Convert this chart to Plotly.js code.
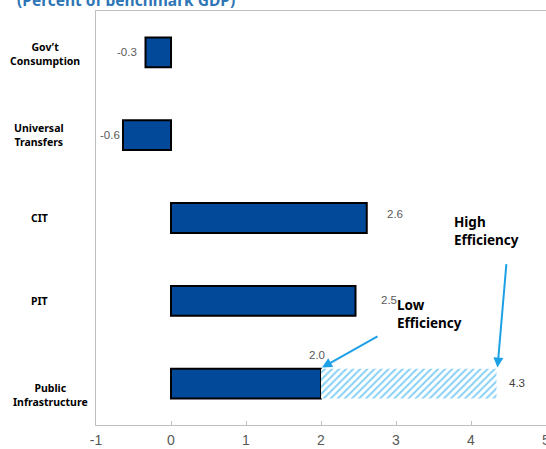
<!DOCTYPE html>
<html>
<head>
<meta charset="utf-8">
<script src="https://cdn.plot.ly/plotly-3.0.1.min.js"></script>
<style>
  html, body { margin: 0; padding: 0; overflow: hidden; background: #fff; width: 546px; height: 449px; }
  #chart { position: absolute; left: 0; top: -10px; width: 600px; height: 459px; }
</style>
</head>
<body>
<div id="chart"></div>
<script>
// ---- data ----
const categories = ["Gov’t Consumption", "Universal Transfers", "CIT", "PIT", "Public Infrastructure"];
const categoryLabels = ["Gov’t<br>Consumption", "Universal<br>Transfers", "CIT", "PIT", "Public<br>Infrastructure"];
const lowEfficiency = [-0.34, -0.64, 2.61, 2.46, 2.0];
const highEfficiencyCategory = "Public Infrastructure";
const highEfficiencyValue = 4.34;
const xTickVals = [-1, 0, 1, 2, 3, 4, 5];
const xTickText = ["-1", "0", "1", "2", "3", "4", "5"];
const titleText = "(Percent of benchmark GDP)";

// ---- styling ----
const plotLeft = 96, plotWidth = 465;
const labelFont = {family: "Noto Sans, Open Sans, sans-serif", size: 10.5, color: "#000"};
const valueFont = {family: "Liberation Sans, Arial, sans-serif", size: 11.5, color: "#595959"};
const noteFont = {family: "Noto Sans, Open Sans, sans-serif", size: 13.5, color: "#000"};
const arrowColor = "#1EA0E6";

const catLabelPos = [ {cx: 45, ys: -2}, {cx: 39, ys: 0}, {cx: 39, ys: 0}, {cx: 39, ys: 0}, {cx: 50, ys: -11} ];
const valueLabelPos = [
  {xa: "right", xs: -7, ys: 0},
  {xa: "right", xs: -1, ys: 0},
  {xa: "left", xs: 18, ys: 4},
  {xa: "left", xs: 23, ys: 1},
  {xa: "center", xs: -4, ys: 29}
];

const idxHigh = categories.indexOf(highEfficiencyCategory);
const lowBase = lowEfficiency[idxHigh];

const traces = [
  {
    type: "bar", orientation: "h",
    y: categories, x: lowEfficiency,
    marker: {color: "#02499A", line: {color: "#000000", width: 2}},
    hoverinfo: "skip", showlegend: false
  },
  {
    type: "bar", orientation: "h",
    y: [highEfficiencyCategory], base: [lowBase], x: [highEfficiencyValue - lowBase],
    marker: {color: "#ffffff", line: {width: 0},
      pattern: {shape: "/", fgcolor: "#86D0F4", bgcolor: "#ffffff", size: 5, solidity: 0.4}},
    hoverinfo: "skip", showlegend: false
  }
];

const annotations = [];
categories.forEach((c, i) => {
  annotations.push({
    xref: "paper", x: 0, xshift: catLabelPos[i].cx - plotLeft, xanchor: "center",
    yref: "y", y: c, yshift: catLabelPos[i].ys, yanchor: "middle",
    text: "<b>" + categoryLabels[i] + "</b>", showarrow: false, align: "center", font: labelFont
  });
  annotations.push({
    xref: "x", x: lowEfficiency[i], xshift: valueLabelPos[i].xs, xanchor: valueLabelPos[i].xa,
    yref: "y", y: c, yshift: valueLabelPos[i].ys, yanchor: "middle",
    text: lowEfficiency[i].toFixed(1), showarrow: false, font: valueFont
  });
});
annotations.push({
  xref: "x", x: highEfficiencyValue, xshift: 10, xanchor: "left",
  yref: "y", y: highEfficiencyCategory, yshift: 1, yanchor: "middle",
  text: highEfficiencyValue.toFixed(1), showarrow: false,
  font: Object.assign({}, valueFont, {color: "#404040"})
});
// note texts
annotations.push({
  xref: "x", x: 3.75, xanchor: "left", yref: "y", y: categories[2], yshift: -13, yanchor: "middle",
  text: "<b>High<br>Efficiency</b>", showarrow: false, align: "left", font: noteFont
});
annotations.push({
  xref: "x", x: 2.98, xanchor: "left", yref: "y", y: categories[3], yshift: -13, yanchor: "middle",
  text: "<b>Low<br>Efficiency</b>", showarrow: false, align: "left", font: noteFont
});
// arrows
annotations.push({
  xref: "x", x: highEfficiencyValue, xshift: 1, yref: "y", y: highEfficiencyCategory, yshift: 16,
  text: "", showarrow: true, arrowhead: 2, arrowsize: 1, arrowwidth: 2, arrowcolor: arrowColor,
  ax: 9, ay: -105, standoff: 0
});
annotations.push({
  xref: "x", x: lowBase, xshift: 1, yref: "y", y: highEfficiencyCategory, yshift: 16,
  text: "", showarrow: true, arrowhead: 2, arrowsize: 1, arrowwidth: 2, arrowcolor: arrowColor,
  ax: 57, ay: -32, standoff: 0
});

const layout = {
  width: 600, height: 459,
  margin: {l: plotLeft, r: 600 - plotLeft - plotWidth, t: 21, b: 24, pad: 0},
  paper_bgcolor: "#ffffff", plot_bgcolor: "#ffffff",
  title: {
    text: "<b>" + titleText + "</b>", x: 17 / 600, xanchor: "left", xref: "container",
    y: 1 - 10.5 / 459, yanchor: "middle", yref: "container",
    font: {family: "Noto Sans, Open Sans, sans-serif", size: 15.5, color: "#2E75B6"}
  },
  barmode: "overlay", bargap: 0.64,
  xaxis: {
    range: [-1, 5.2], tickvals: xTickVals, ticktext: xTickText,
    ticks: "inside", ticklen: 4, tickcolor: "#BFBFBF", tickwidth: 1,
    showline: true, mirror: true, linecolor: "#BFBFBF", linewidth: 1,
    showgrid: false, zeroline: false, automargin: false, ticklabelstandoff: 2,
    tickfont: {family: "Liberation Sans, Arial, sans-serif", size: 14, color: "#595959"}
  },
  yaxis: {
    type: "category", categoryorder: "array", categoryarray: categories,
    range: [4.5, -0.5], showticklabels: false, ticks: "",
    showline: true, mirror: true, linecolor: "#BFBFBF", linewidth: 1,
    showgrid: false, zeroline: false, automargin: false
  },
  annotations: annotations,
  shapes: [{
    type: "rect", xref: "paper", yref: "paper", layer: "above",
    x0: -plotLeft / plotWidth - 0.01, x1: (12 - plotLeft) / plotWidth, y0: -0.02, y1: 1.0,
    fillcolor: "#ffffff", line: {width: 0}
  }],
  font: {family: "Liberation Sans, Arial, sans-serif"}
};

Plotly.newPlot("chart", traces, layout, {staticPlot: true, displayModeBar: false});
</script>
</body>
</html>
